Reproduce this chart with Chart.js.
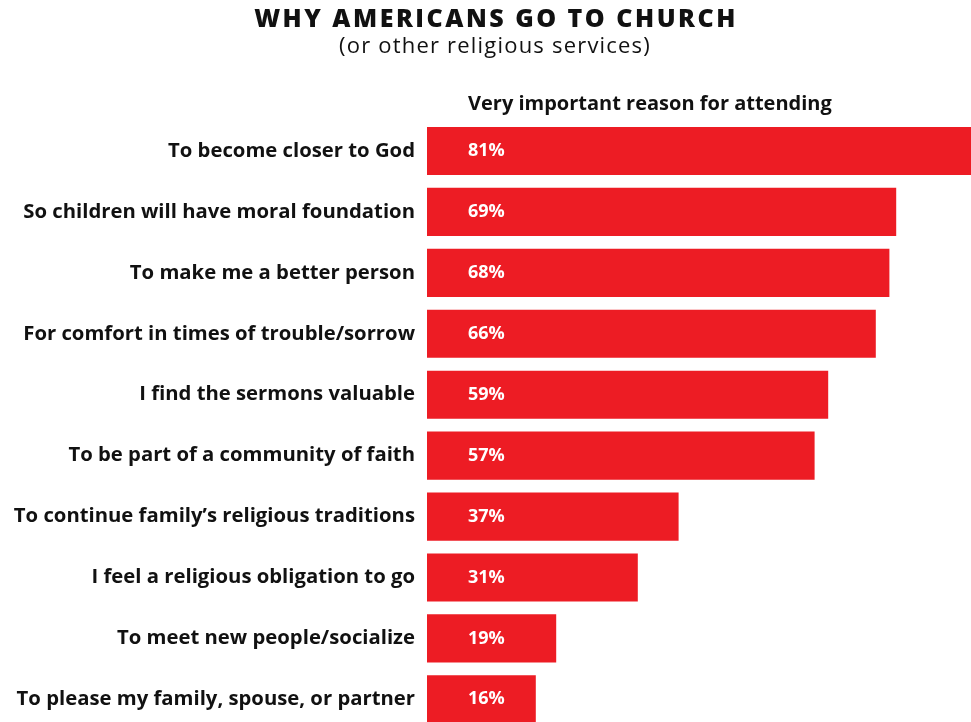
<!DOCTYPE html>
<html lang="en">
<head>
  <meta charset="UTF-8">
  <title>Why Americans Go to Church</title>
  <script src="https://cdn.jsdelivr.net/npm/chart.js"></script>
  <style>
    html, body { margin: 0; padding: 0; background: #fff; overflow: hidden; }
    #wrap { width: 971px; height: 754px; }
  </style>
</head>
<body>
<div id="wrap">
  <canvas id="churchChart" width="971" height="754"></canvas>
</div>

<script>
// chart data
const reasons = [
  'To become closer to God',
  'So children will have moral foundation',
  'To make me a better person',
  'For comfort in times of trouble/sorrow',
  'I find the sermons valuable',
  'To be part of a community of faith',
  'To continue family\u2019s religious traditions',
  'I feel a religious obligation to go',
  'To meet new people/socialize',
  'To please my family, spouse, or partner'
];
const veryImportant = [81, 69, 68, 66, 59, 57, 37, 31, 19, 16];
const titleText = 'WHY AMERICANS GO TO CHURCH';
const subtitleText = '(or other religious services)';
const headerText = 'Very important reason for attending';

const RED = '#ed1c24';
const INK = '#111';
const FONT = "'Open Sans', 'Noto Sans', sans-serif";

// title block, column header and the % labels inside the bars
const textLayer = {
  id: 'textLayer',
  afterDatasetsDraw(chart) {
    const ctx = chart.ctx;
    const area = chart.chartArea;
    ctx.save();
    ctx.textBaseline = 'middle';
    ctx.fillStyle = INK;

    ctx.textAlign = 'center';
    ctx.letterSpacing = '2.5px';
    ctx.font = '800 25px ' + FONT;
    ctx.fillText(titleText, 496, 20);

    ctx.letterSpacing = '1.2px';
    ctx.font = '400 22px ' + FONT;
    ctx.fillText(subtitleText, 495, 47);

    ctx.letterSpacing = '0px';
    ctx.textAlign = 'left';
    ctx.font = '700 20px ' + FONT;
    ctx.fillText(headerText, area.left + 41, 104);

    ctx.fillStyle = '#fff';
    ctx.font = '700 18px ' + FONT;
    chart.getDatasetMeta(0).data.forEach((bar, i) => {
      ctx.fillText(veryImportant[i] + '%', area.left + 41, bar.y);
    });
    ctx.restore();
  }
};

new Chart(document.getElementById('churchChart'), {
  type: 'bar',
  data: {
    labels: reasons,
    datasets: [{
      data: veryImportant,
      backgroundColor: RED,
      borderWidth: 0,
      categoryPercentage: 1,
      barPercentage: 0.79
    }]
  },
  options: {
    indexAxis: 'y',
    responsive: false,
    animation: false,
    layout: { padding: { left: 0, right: 0, top: 120.5, bottom: 0 } },
    plugins: {
      legend: { display: false },
      tooltip: { enabled: false }
    },
    scales: {
      x: {
        display: false,
        min: 0,
        max: 80
      },
      y: {
        grid: { display: false, drawTicks: false },
        border: { display: false },
        afterFit(scale) { scale.width = 427; },
        ticks: {
          color: INK,
          padding: 12,
          font: { family: FONT, size: 20.3, weight: '700' }
        }
      }
    }
  },
  plugins: [textLayer]
});
</script>
</body>
</html>
